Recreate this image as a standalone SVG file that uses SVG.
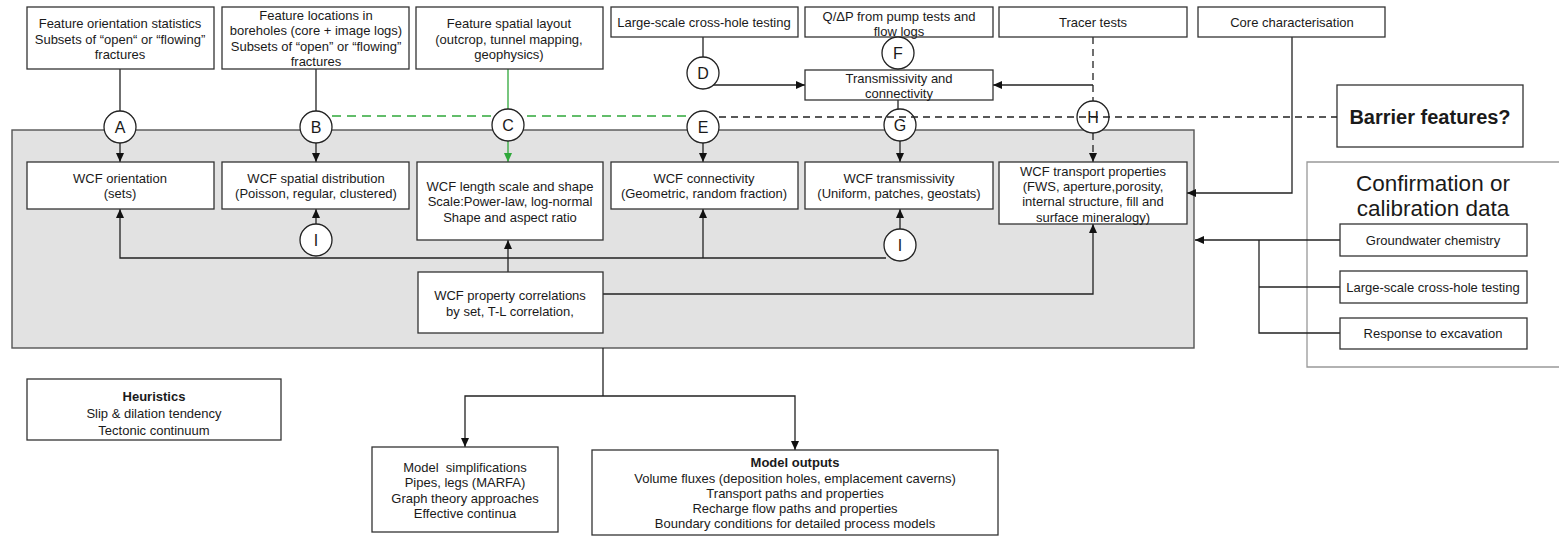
<svg xmlns="http://www.w3.org/2000/svg" width="1559" height="536" viewBox="0 0 1559 536">
  <style>
    .box { fill: #ffffff; stroke: #333333; stroke-width: 1.3; }
    .t { font-family: "Liberation Sans", Arial, sans-serif; font-size: 13px; fill: #1a1a1a; text-anchor: middle; }
    .b { font-weight: bold; }
    .ln { fill: none; stroke: #222222; stroke-width: 1.3; }
    .dash { fill: none; stroke: #222222; stroke-width: 1.3; stroke-dasharray: 7 5; }
    .gdash { fill: none; stroke: #2fa83a; stroke-width: 1.5; stroke-dasharray: 9 6; }
    .green { fill: none; stroke: #2fa83a; stroke-width: 1.3; }
    .circ { fill: #ffffff; stroke: #222222; stroke-width: 1.3; }
    .lbl { font-family: "Liberation Sans", Arial, sans-serif; font-size: 16px; fill: #1a1a1a; text-anchor: middle; }
  </style>
  <defs>
    <marker id="arr" markerUnits="userSpaceOnUse" markerWidth="10" markerHeight="8" refX="9" refY="4" orient="auto">
      <path d="M0,0 L9,4 L0,8 Z" fill="#111111"/>
    </marker>
    <marker id="garr" markerUnits="userSpaceOnUse" markerWidth="10" markerHeight="8" refX="9" refY="4" orient="auto">
      <path d="M0,0 L9,4 L0,8 Z" fill="#2fa83a"/>
    </marker>
  </defs>

  <rect width="1559" height="536" fill="#ffffff"/>

  <!-- model domain panel -->
  <rect id="panel" x="12" y="130" width="1182" height="218" fill="#e2e2e2" stroke="#555555" stroke-width="1.4"/>

  <!-- calibration panel -->
  <g id="calibration-panel">
    <path d="M1570,162 H1307 V367 H1570" fill="#ffffff" stroke="#999999" stroke-width="1.3"/>
    <text x="1433" y="191" class="t" style="font-size:22.5px">Confirmation or</text>
    <text x="1433" y="216" class="t" style="font-size:22.5px">calibration data</text>
  </g>

  <!-- connectors -->
  <g id="connectors">
    <path class="ln" d="M120,69 V111"/>
    <path class="ln" d="M316,69 V111"/>
    <path class="green" d="M508,69 V109"/>
    <path class="ln" d="M703,37 V57"/>
    <path class="ln" d="M713,85 H805" marker-end="url(#arr)"/>
    <path class="dash" d="M1093,37 V101"/>
    <path class="ln" d="M1093,85 H993" marker-end="url(#arr)"/>
    <path class="ln" d="M898,100 V109"/>
    <path class="gdash" d="M332,116 H687"/>

    <path class="ln" d="M120,143 V162" marker-end="url(#arr)"/>
    <path class="ln" d="M316,143 V162" marker-end="url(#arr)"/>
    <path class="green" d="M508,141 V162" marker-end="url(#garr)"/>
    <path class="ln" d="M703,143 V162" marker-end="url(#arr)"/>
    <path class="ln" d="M900,141 V162" marker-end="url(#arr)"/>
    <path class="dash" d="M1093,133 V162" marker-end="url(#arr)"/>

    <path class="ln" d="M1292,37 V193 H1187" marker-end="url(#arr)"/>

    <path class="ln" d="M886,258 H120 V209" marker-end="url(#arr)"/>
    <path class="ln" d="M703,258 V209" marker-end="url(#arr)"/>
    <path class="ln" d="M316,224 V209" marker-end="url(#arr)"/>
    <path class="ln" d="M900,229 V209" marker-end="url(#arr)"/>
    <path class="ln" d="M508,272 V240" marker-end="url(#arr)"/>
    <path class="ln" d="M603,294 H1093 V224" marker-end="url(#arr)"/>

    <path class="ln" d="M1340,240 H1195" marker-end="url(#arr)"/>
    <path class="ln" d="M1259,240 V333 H1340"/>
    <path class="ln" d="M1259,287 H1340"/>

    <path class="ln" d="M603,348 V396"/>
    <path class="ln" d="M603,396 H465 V447" marker-end="url(#arr)"/>
    <path class="ln" d="M603,396 H795 V450" marker-end="url(#arr)"/>
  </g>

  <!-- data source nodes -->
  <g id="src-orientation">
    <rect class="box" x="27" y="7" width="187" height="62"/>
    <text class="t" x="120" y="28">Feature orientation statistics</text>
    <text class="t" x="120" y="43.5">Subsets of “open“ or “flowing”</text>
    <text class="t" x="120" y="59">fractures</text>
  </g>
  <g id="src-locations">
    <rect class="box" x="222" y="7" width="187" height="62"/>
    <text class="t" x="316" y="19.5">Feature locations in</text>
    <text class="t" x="316" y="35">boreholes (core + image logs)</text>
    <text class="t" x="316" y="50.5">Subsets of “open” or “flowing”</text>
    <text class="t" x="316" y="66">fractures</text>
  </g>
  <g id="src-layout">
    <rect class="box" x="416" y="7" width="187" height="62"/>
    <text class="t" x="509" y="28">Feature spatial layout</text>
    <text class="t" x="509" y="43.5">(outcrop, tunnel mapping,</text>
    <text class="t" x="509" y="59">geophysics)</text>
  </g>
  <g id="src-crosshole">
    <rect class="box" x="611" y="7" width="187" height="30"/>
    <text class="t" x="704" y="27">Large-scale cross-hole testing</text>
  </g>
  <g id="src-pump">
    <rect class="box" x="805" y="7" width="188" height="30"/>
    <text class="t" x="899" y="20.5">Q/ΔP from pump tests and</text>
    <text class="t" x="899" y="35.5">flow logs</text>
  </g>
  <g id="src-tracer">
    <rect class="box" x="999" y="7" width="188" height="30"/>
    <text class="t" x="1093" y="27">Tracer tests</text>
  </g>
  <g id="src-core">
    <rect class="box" x="1198" y="7" width="187" height="30"/>
    <text class="t" x="1292" y="27">Core characterisation</text>
  </g>
  <g id="transmissivity-connectivity">
    <rect class="box" x="805" y="70" width="188" height="30"/>
    <text class="t" x="899" y="82.5">Transmissivity and</text>
    <text class="t" x="899" y="97.5">connectivity</text>
  </g>
  <g id="barrier">
    <rect class="box" x="1337" y="85" width="186" height="62"/>
    <text class="t b" x="1430" y="124" style="font-size:20px">Barrier features?</text>
  </g>

  <!-- WCF property nodes -->
  <g id="wcf-orientation">
    <rect class="box" x="27" y="162" width="187" height="47"/>
    <text class="t" x="120" y="182.5">WCF orientation</text>
    <text class="t" x="120" y="197.5">(sets)</text>
  </g>
  <g id="wcf-spatial">
    <rect class="box" x="222" y="162" width="187" height="47"/>
    <text class="t" x="316" y="182.5">WCF spatial distribution</text>
    <text class="t" x="316" y="197.5">(Poisson, regular, clustered)</text>
  </g>
  <g id="wcf-length">
    <rect class="box" x="417" y="162" width="186" height="78"/>
    <text class="t" x="510" y="190.5">WCF length scale and shape</text>
    <text class="t" x="510" y="205.5">Scale:Power-law, log-normal</text>
    <text class="t" x="510" y="221.5">Shape and aspect ratio</text>
  </g>
  <g id="wcf-connectivity">
    <rect class="box" x="611" y="162" width="187" height="47"/>
    <text class="t" x="704" y="182.5">WCF connectivity</text>
    <text class="t" x="704" y="197.5">(Geometric, random fraction)</text>
  </g>
  <g id="wcf-transmissivity">
    <rect class="box" x="805" y="162" width="188" height="47"/>
    <text class="t" x="899" y="182.5">WCF transmissivity</text>
    <text class="t" x="899" y="197.5">(Uniform, patches, geostats)</text>
  </g>
  <g id="wcf-transport">
    <rect class="box" x="999" y="162" width="188" height="62"/>
    <text class="t" x="1093" y="175.5">WCF transport properties</text>
    <text class="t" x="1093" y="190.5">(FWS, aperture,porosity,</text>
    <text class="t" x="1093" y="205.5">internal structure, fill and</text>
    <text class="t" x="1093" y="221.5">surface mineralogy)</text>
  </g>
  <g id="wcf-correlations">
    <rect class="box" x="418" y="272" width="185" height="61"/>
    <text class="t" x="510" y="299.5">WCF property correlations</text>
    <text class="t" x="510" y="315.5">by set, T-L correlation,</text>
  </g>

  <!-- lower nodes -->
  <g id="heuristics">
    <rect class="box" x="27" y="379" width="254" height="61"/>
    <text class="t b" x="154" y="400.5">Heuristics</text>
    <text class="t" x="154" y="417.5">Slip &amp; dilation tendency</text>
    <text class="t" x="154" y="434.5">Tectonic continuum</text>
  </g>
  <g id="simplifications">
    <rect class="box" x="372" y="447" width="186" height="85"/>
    <text class="t" x="465" y="471.5" xml:space="preserve">Model  simplifications</text>
    <text class="t" x="465" y="486.5">Pipes, legs (MARFA)</text>
    <text class="t" x="465" y="502.5">Graph theory approaches</text>
    <text class="t" x="465" y="517.5">Effective continua</text>
  </g>
  <g id="outputs">
    <rect class="box" x="592" y="450" width="406" height="85"/>
    <text class="t b" x="795" y="466.5">Model outputs</text>
    <text class="t" x="795" y="482.5">Volume fluxes (deposition holes, emplacement caverns)</text>
    <text class="t" x="795" y="497.5">Transport paths and properties</text>
    <text class="t" x="795" y="512.5">Recharge flow paths and properties</text>
    <text class="t" x="795" y="527.5">Boundary conditions for detailed process models</text>
  </g>

  <!-- calibration data nodes -->
  <g id="cal-chemistry">
    <rect class="box" x="1340" y="224" width="187" height="32"/>
    <text class="t" x="1433" y="244.5">Groundwater chemistry</text>
  </g>
  <g id="cal-crosshole">
    <rect class="box" x="1340" y="271" width="187" height="32"/>
    <text class="t" x="1433" y="291.5">Large-scale cross-hole testing</text>
  </g>
  <g id="cal-excavation">
    <rect class="box" x="1340" y="318" width="187" height="31"/>
    <text class="t" x="1433" y="338">Response to excavation</text>
  </g>

  <!-- lettered junctions -->
  <g id="junction-A"><circle class="circ" cx="120" cy="127" r="16"/><text class="lbl" x="120" y="133">A</text></g>
  <g id="junction-B"><circle class="circ" cx="316" cy="127" r="16"/><text class="lbl" x="316" y="133">B</text></g>
  <g id="junction-C"><circle class="circ" cx="508" cy="125" r="16"/><text class="lbl" x="508" y="131">C</text></g>
  <g id="junction-D"><circle class="circ" cx="703" cy="73" r="16"/><text class="lbl" x="703" y="79">D</text></g>
  <g id="junction-E"><circle class="circ" cx="703" cy="127" r="16"/><text class="lbl" x="703" y="133">E</text></g>
  <g id="junction-F"><circle class="circ" cx="898" cy="53" r="16"/><text class="lbl" x="898" y="59">F</text></g>
  <g id="junction-G"><circle class="circ" cx="900" cy="125" r="16"/><text class="lbl" x="900" y="131">G</text></g>
  <g id="junction-H"><circle class="circ" cx="1093" cy="117" r="16"/><text class="lbl" x="1093" y="123">H</text></g>
  <g id="junction-I1"><circle class="circ" cx="316" cy="240" r="16"/><text class="lbl" x="316" y="246">I</text></g>
  <g id="junction-I2"><circle class="circ" cx="900" cy="245" r="16"/><text class="lbl" x="900" y="251">I</text></g>

  <!-- barrier link drawn over junctions G and H -->
  <path class="dash" d="M719,117 H1337"/>
</svg>
